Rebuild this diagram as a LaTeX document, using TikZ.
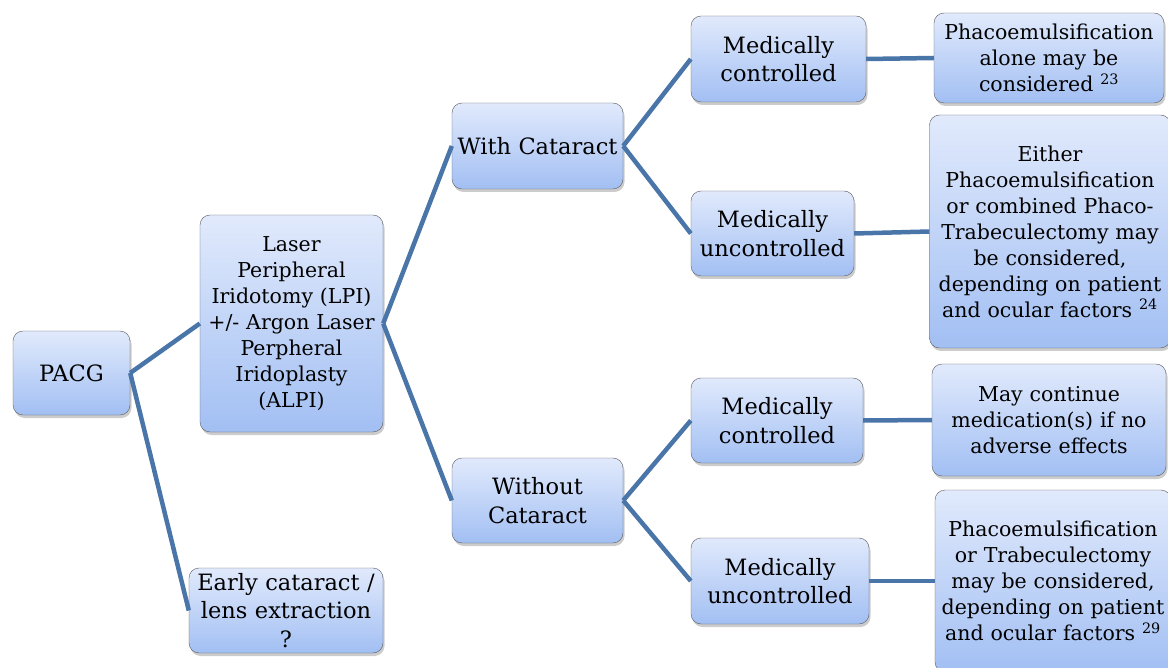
\documentclass[tikz,border=0pt]{standalone}
\usepackage{fontspec}
\usepackage{tikz}
\usepackage{xcolor}
\usetikzlibrary{shadows}
\setmainfont{DejaVu Serif}
\definecolor{linkblue}{RGB}{74,117,168}
\definecolor{boxtop}{RGB}{225,234,252}
\definecolor{boxbottom}{RGB}{162,191,243}
\definecolor{boxedge}{RGB}{90,90,95}
\tikzset{
    stage-box/.style = {draw=boxedge, thin, rectangle, rounded corners=10pt, top color=boxtop, bottom color=boxbottom, align=center, inner xsep=4pt, inner ysep=0pt, font=\fontsize{22.5}{28.5}\selectfont, drop shadow={shadow xshift=1.5pt, shadow yshift=-3pt, fill=black!40}},
    note-box/.style = {stage-box, font=\fontsize{20.5}{26}\selectfont},
    link-line/.style = {draw=linkblue, line width=4.5pt},
}

\begin{document}
\begin{tikzpicture}[x=1pt, y=-1pt]
\path[use as bounding box, clip] (0,0) rectangle (1168,668);
% first level
\node [stage-box, text width=109pt, minimum height=84pt] (pacg) at (71.5,373) {PACG};
\node [note-box, text width=175pt, minimum height=217pt] (lpi) at (291.5,323.5) {Laser\\Peripheral\\Iridotomy (LPI)\\+/- Argon Laser\\Perpheral\\Iridoplasty\\(ALPI)};
\node [stage-box, text width=186pt, minimum height=85pt] (early) at (286,610.5) {Early cataract /\\lens extraction\\?};
% cataract or not
\node [stage-box, text width=163pt, minimum height=86pt] (with) at (537.5,146) {With Cataract};
\node [stage-box, text width=163pt, minimum height=85pt] (without) at (537.5,500.5) {Without\\Cataract};
% pressure control
\node [stage-box, text width=167pt, minimum height=86pt] (mc-with) at (778.5,59) {Medically\\controlled};
\node [stage-box, text width=155pt, minimum height=85pt] (mu-with) at (772.5,233.5) {Medically\\uncontrolled};
\node [stage-box, text width=164pt, minimum height=85pt] (mc-without) at (777,420.5) {Medically\\controlled};
\node [stage-box, text width=170pt, minimum height=86pt] (mu-without) at (780,581) {Medically\\uncontrolled};
% management
\node [note-box, text width=222pt, minimum height=90pt] (mgmt-a) at (1049,58) {Phacoemulsification\\alone may be\\considered \textsuperscript{23}};
\node [note-box, text width=233pt, minimum height=233pt] (mgmt-b) at (1050,231.5) {Either\\Phacoemulsification\\or combined Phaco-\\Trabeculectomy may\\be considered,\\depending on patient\\and ocular factors \textsuperscript{24}};
\node [note-box, text width=226pt, minimum height=112pt] (mgmt-c) at (1049,420) {May continue\\medication(s) if no\\adverse effects};
\node [note-box, text width=228pt, minimum height=182pt] (mgmt-d) at (1053,581) {Phacoemulsification\\or Trabeculectomy\\may be considered,\\depending on patient\\and ocular factors \textsuperscript{29}};
% connectors
\draw [link-line] (pacg.east) -- (lpi.west);
\draw [link-line] (pacg.east) -- (early.west);
\draw [link-line] (lpi.east) -- (with.west);
\draw [link-line] (lpi.east) -- (without.west);
\draw [link-line] (with.east) -- (mc-with.west);
\draw [link-line] (with.east) -- (mu-with.west);
\draw [link-line] (without.east) -- (mc-without.west);
\draw [link-line] (without.east) -- (mu-without.west);
\draw [link-line] (mc-with.east) -- (mgmt-a.west);
\draw [link-line] (mu-with.east) -- (mgmt-b.west);
\draw [link-line] (mc-without.east) -- (mgmt-c.west);
\draw [link-line] (mu-without.east) -- (mgmt-d.west);
\end{tikzpicture}
\end{document}
